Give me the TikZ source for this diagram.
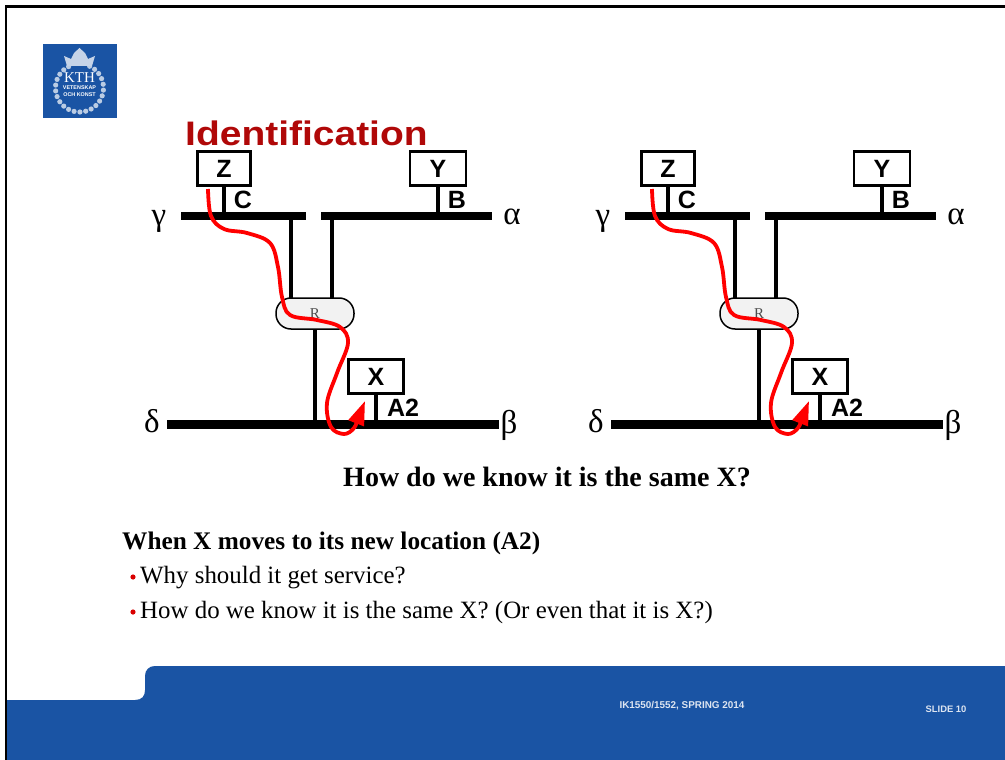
\documentclass[tikz,border=0pt]{standalone}
\usepackage{fontspec}
\setmainfont{Liberation Serif}
\setsansfont{Liberation Sans}
\newfontfamily\titlefont[FakeStretch=1.146]{Liberation Sans}
\usetikzlibrary{arrows.meta}
\definecolor{kthblue}{HTML}{1A54A4}
\definecolor{titlered}{HTML}{B00808}
\tikzstyle{hostbox}=[draw, line width=2.2pt, fill=white, minimum width=53pt, minimum height=34pt, inner sep=0pt, font=\sffamily\bfseries\fontsize{25}{25}\selectfont]
\tikzstyle{bus}=[draw, line width=8.5pt]
\tikzstyle{stub}=[draw, line width=4.5pt]
\tikzstyle{addr}=[font=\sffamily\bfseries\fontsize{25}{25}\selectfont, inner sep=0pt]
\tikzstyle{netname}=[font=\fontsize{33}{33}\selectfont, inner sep=0pt]
\tikzstyle{route}=[draw=red, line width=3.8pt, -{Triangle[length=24pt,width=16pt]}]
\tikzstyle{slidetext}=[anchor=base west, inner sep=0pt, font=\fontsize{24.9}{28}\selectfont]
\tikzstyle{foot}=[text=white!85!kthblue, inner sep=0pt, font=\sffamily\bfseries\fontsize{9.9}{10}\selectfont]
\begin{document}
\begin{tikzpicture}[x=1pt, y=-1pt]
	\useasboundingbox (0,0) rectangle (1005,760);
	\fill[white] (0,0) rectangle (1005,760);
	% footer
	\fill[kthblue] (5,700) -- (135,700) .. controls (142,700) and (145,696) .. (145,690) -- (145,676) .. controls (145,670) and (149,666) .. (155,666) -- (1005,666) -- (1005,760) -- (5,760) -- cycle;
	\draw[line width=2.5pt] (6,760) -- (6,6.5) -- (1005,6.5);
	\node[foot] (course) at (682,706) {IK1550/1552, SPRING 2014};
	\node[foot, font=\sffamily\bfseries\fontsize{9.4}{10}\selectfont] (slideno) at (946,709) {SLIDE 10};
	% logo
	\node[fill=kthblue, minimum size=74pt, inner sep=0pt] (logo) at (79.5,81) {};
	\foreach \ang in {-65,-51,...,245}
		\fill[white!70!kthblue] (79.5,88) ++(\ang:24) circle (2.6pt);
	\fill[white!75!kthblue] (67,66) -- (64,56) -- (71,59) -- (74,53) -- (79.5,48) -- (85,53) -- (88,59) -- (95,56) -- (92,66) -- cycle;
	\node[anchor=base, text=white, inner sep=0pt, font=\fontsize{15}{15}\selectfont] (kth) at (79.5,83) {KTH};
	\node[anchor=base, text=white, inner sep=0pt, font=\sffamily\bfseries\fontsize{5.4}{6}\selectfont] (motto1) at (79.5,90) {VETENSKAP};
	\node[anchor=base, text=white, inner sep=0pt, font=\sffamily\bfseries\fontsize{5.4}{6}\selectfont] (motto2) at (79.5,97) {OCH KONST};
	% title
	\node[anchor=base west, inner sep=0pt, text=titlered, font=\titlefont\bfseries\fontsize{34}{34}\selectfont] (title) at (185,146) {Identification};
	% both networks
	\foreach \side/\ox in {l/0, r/444}
	{
		\begin{scope}[xshift=\ox pt]
			\coordinate (\side gw) at (181,216);
			\coordinate (\side ge) at (306,216);
			\coordinate (\side aw) at (321,216);
			\coordinate (\side ae) at (492,216);
			\coordinate (\side dw) at (167,424.5);
			\coordinate (\side be) at (499,424.5);
			\path[bus] (\side gw) -- (\side ge);
			\path[bus] (\side aw) -- (\side ae);
			\path[bus] (\side dw) -- (\side be);
			\node[draw, line width=1.5pt, fill=black!5, rounded corners=15pt, minimum width=78pt, minimum height=31pt, inner sep=0pt, text=black!70, font=\fontsize{15}{15}\selectfont] (\side R) at (315,313.5) {R};
			\node[hostbox] (\side Z) at (224,168.5) {Z};
			\node[hostbox, minimum width=56pt] (\side Y) at (438,168.5) {Y};
			\node[hostbox, minimum width=55pt] (\side X) at (376,376.5) {X};
			\path[stub] (\side Z.south) -- (224,212);
			\path[stub] (\side Y.south) -- (438,212);
			\path[stub] (\side X.south) -- (376,421);
			\path[stub] (291,220) -- (291,298);
			\path[stub] (332,220) -- (332,298);
			\path[stub] (\side R.south) -- (315,421);
			\node[addr] (\side C) at (243,200) {C};
			\node[addr] (\side B) at (457,200) {B};
			\node[addr] (\side A) at (403,408) {A2};
			\node[netname] (\side gamma) at (159,221) {γ};
			\node[netname] (\side alpha) at (512,217) {α};
			\node[netname] (\side delta) at (152,421) {δ};
			\node[netname] (\side beta) at (509,425) {β};
			\coordinate (\side start) at (208,189);
			\path[route] plot[smooth, tension=0.6] coordinates {(\side start) (211,216) (224,229) (247,233) (270,243) (278,267) (282,297) (290,315) (317,320) (340,327) (348,343) (337,373) (327,403) (331,427) (344,434) (354,428) (359,416) (365,401)};
		\end{scope}
	}
	% text
	\node[anchor=base, inner sep=0pt, font=\bfseries\fontsize{28}{30}\selectfont] (question) at (547,486) {How do we know it is the same X?};
	\node[anchor=base west, inner sep=0pt, font=\bfseries\fontsize{25.3}{28}\selectfont] (when) at (122,549) {When X moves to its new location (A2)};
	\node[slidetext] (why) at (140,583) {Why should it get service?};
	\node[slidetext] (how) at (140,618) {How do we know it is the same X? (Or even that it is X?)};
	\fill[red!85!black] (133,577) circle (2.6pt);
	\fill[red!85!black] (133,612) circle (2.6pt);
\end{tikzpicture}
\end{document}
